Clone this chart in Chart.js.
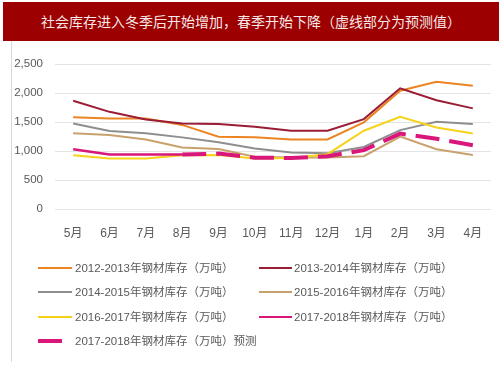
<!DOCTYPE html>
<html>
<head>
<meta charset="utf-8">
<script src="https://cdn.jsdelivr.net/npm/chart.js@4/dist/chart.umd.min.js"></script>
<style>
  html, body { margin: 0; padding: 0; background: #fff; }
  body { width: 503px; height: 378px; position: relative; overflow: hidden;
         font-family: "Liberation Sans", "Noto Sans CJK SC", sans-serif; }
  #title { position: absolute; left: 3px; top: 2px; width: 496px; height: 39px;
           background: #9c0000; color: #f4e8e8; font-size: 14px; line-height: 39px;
           text-align: center; font-family: "Noto Sans CJK SC", sans-serif; }
  #frame { position: absolute; left: 11px; top: 41px; width: 1px; height: 321px; background: #d9d9d9; }
  #wrap { position: absolute; left: 0; top: 0; width: 503px; height: 249px; }
  #legend { position: absolute; left: 0; top: 0; width: 503px; height: 378px; pointer-events: none; }
  .item { position: absolute; height: 16px; font-size: 11.5px; color: #595959; line-height: 16px; white-space: nowrap; }
  .swatch { position: absolute; top: 7px; height: 2px; }
  .txt { position: absolute; top: 0; }
</style>
</head>
<body>
<div id="title">社会库存进入冬季后开始增加，春季开始下降（虚线部分为预测值）</div>
<div id="frame"></div>
<div id="wrap"><canvas id="chart"></canvas></div>
<div id="legend"></div>
<script>
"use strict";
let months = ['5月', '6月', '7月', '8月', '9月', '10月', '11月', '12月', '1月', '2月', '3月', '4月'];
let yTicks = [0, 500, 1000, 1500, 2000, 2500];

let s2012 = [1580, 1560, 1560, 1450, 1245, 1235, 1200, 1200, 1495, 2040, 2195, 2125];
let s2013 = [1865, 1675, 1545, 1475, 1465, 1420, 1350, 1350, 1550, 2080, 1875, 1735];
let s2014 = [1475, 1345, 1305, 1235, 1150, 1045, 975, 960, 1070, 1360, 1505, 1465];
let s2015 = [1305, 1275, 1200, 1060, 1035, 900, 890, 890, 910, 1250, 1030, 930];
let s2016 = [925, 870, 870, 925, 930, 870, 880, 945, 1350, 1590, 1405, 1300];
let s2017 = [1030, 940, 940, 940, null, null, null, null, null, null, null, null];
let s2017f = [null, null, null, 940, 955, 885, 880, 910, 1015, 1300, 1210, 1100];

let labels2012 = '2012-2013年钢材库存（万吨）';
let labels2013 = '2013-2014年钢材库存（万吨）';
let labels2014 = '2014-2015年钢材库存（万吨）';
let labels2015 = '2015-2016年钢材库存（万吨）';
let labels2016 = '2016-2017年钢材库存（万吨）';
let labels2017 = '2017-2018年钢材库存（万吨）';
let labels2017f = '2017-2018年钢材库存（万吨）预测';

function line(label, data, color, width, order) {
    return {
        label: label,
        data: data,
        borderColor: color,
        backgroundColor: color,
        borderWidth: width,
        pointRadius: 0,
        tension: 0,
        fill: false,
        spanGaps: false,
        order: order
    };
}

let datasets = [
    line(labels2012, s2012, '#ec8421', 2, 5),
    line(labels2013, s2013, '#9a1c35', 2, 4),
    line(labels2014, s2014, '#8e8e8e', 2, 6),
    line(labels2015, s2015, '#c9a16d', 2, 7),
    line(labels2016, s2016, '#f7d21a', 2, 3),
    line(labels2017, s2017, '#d9177a', 2.5, 2)
];
let dashed = line(labels2017f, s2017f, '#d9177a', 4, 1);
dashed.borderDash = [24, 10];
datasets.push(dashed);

let canvas = document.getElementById('chart');
let ctx = canvas.getContext('2d');
let chart = new Chart(ctx, {
    type: 'line',
    data: { labels: months, datasets: datasets },
    options: {
        responsive: true,
        maintainAspectRatio: false,
        animation: false,
        layout: { padding: { top: 64, right: 12, bottom: 0, left: 0 } },
        plugins: { legend: { display: false }, tooltip: { enabled: false } },
        scales: {
            x: {
                offset: true,
                grid: { display: false, drawTicks: false },
                border: { display: false },
                ticks: { color: '#595959', font: { family: '"Liberation Sans", "Noto Sans CJK SC"', size: 12 }, padding: 17, maxRotation: 0 },
                afterFit: function (scale) { scale.height = 40; }
            },
            y: {
                min: 0,
                max: 2500,
                afterBuildTicks: function (scale) { scale.ticks = yTicks.map(v => ({ value: v })); },
                grid: { color: '#e4e4e4', lineWidth: 1, drawTicks: false },
                border: { display: false },
                ticks: {
                    color: '#595959',
                    font: { family: '"Liberation Sans", "Noto Sans CJK SC"', size: 11.5 },
                    padding: 12,
                    callback: v => v.toLocaleString('en-US')
                },
                afterFit: function (scale) { scale.width = 55; }
            }
        }
    }
});

// two-column legend built from the datasets
let legend = document.getElementById('legend');
let rowY = [260, 284, 309, 333];
datasets.forEach((ds, i) => {
    let col = i % 2;
    let row = Math.floor(i / 2);
    let item = document.createElement('div');
    item.className = 'item';
    item.style.top = rowY[row] + 'px';
    item.style.left = (col === 0 ? 38 : 259) + 'px';
    let sw = document.createElement('div');
    sw.className = 'swatch';
    sw.style.left = '0px';
    sw.style.background = ds.borderColor;
    if (ds.borderDash) {
        sw.style.width = '24px';
        sw.style.height = '4px';
        sw.style.top = '6px';
    } else {
        sw.style.width = (col === 0 ? 34 : 33) + 'px';
    }
    let txt = document.createElement('span');
    txt.className = 'txt';
    txt.style.left = (col === 0 ? 37 : 35) + 'px';
    txt.textContent = ds.label;
    item.appendChild(sw);
    item.appendChild(txt);
    legend.appendChild(item);
});
</script>
</body>
</html>
